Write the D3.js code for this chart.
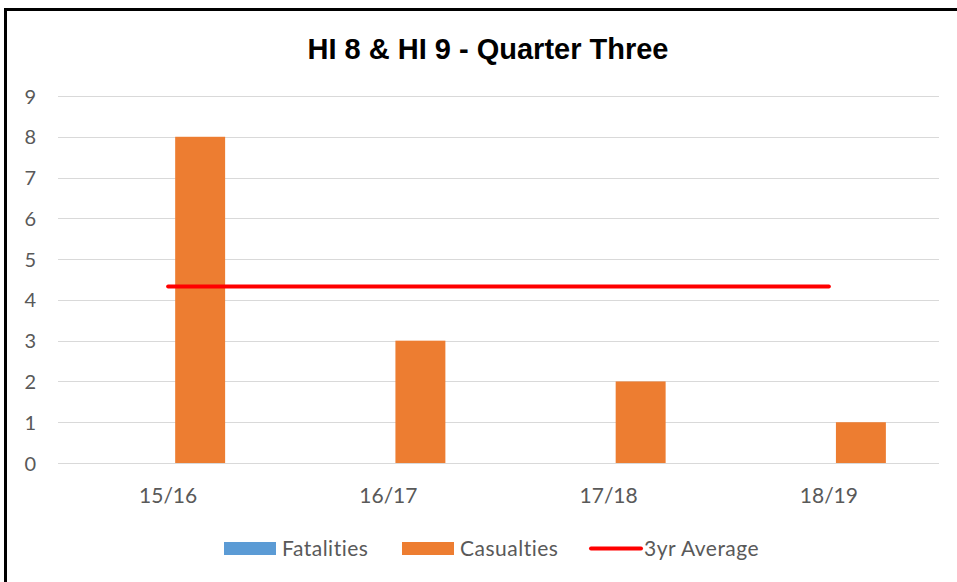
<!DOCTYPE html>
<html>
<head>
<meta charset="utf-8">
<script src="https://cdn.jsdelivr.net/npm/d3@7/dist/d3.min.js"></script>
<style>
  html, body { margin: 0; padding: 0; background: #fff; }
  svg { display: block; }
</style>
</head>
<body>
<svg id="chart" width="957" height="582"></svg>
<script>
// ---- data ----
const categories = ["15/16", "16/17", "17/18", "18/19"];
const fatalities = [0, 0, 0, 0];
const casualties = [8, 3, 2, 1];
const average3yr = [4.33, 4.33, 4.33, 4.33];
const yTicks = [0, 1, 2, 3, 4, 5, 6, 7, 8, 9];
const seriesNames = ["Fatalities", "Casualties", "3yr Average"];
const titleText = "HI 8 & HI 9 - Quarter Three";

// ---- layout ----
const svg = d3.select("#chart");
const W = 957, H = 582;
const plot = { left: 58, right: 939, top: 96, bottom: 463 };
const colors = { fat: "#5B9BD5", cas: "#ED7D31", avg: "#FF0000", grid: "#D9D9D9", text: "#595959" };
const font = "Lato, 'Open Sans', sans-serif";

svg.append("rect").attr("width", W).attr("height", H).attr("fill", "#fff");
// frame (left and top visible)
svg.append("line").attr("x1", 5.5).attr("x2", 5.5).attr("y1", 9).attr("y2", H).attr("stroke", "#000").attr("stroke-width", 3);
svg.append("line").attr("x1", 4).attr("x2", W).attr("y1", 9.5).attr("y2", 9.5).attr("stroke", "#000").attr("stroke-width", 3);

const x = d3.scaleBand().domain(categories).range([plot.left, plot.right]).padding(0);
const inner = d3.scaleBand().domain(["fat", "cas"]).range([-57, 57]).paddingInner(0.22);
const y = d3.scaleLinear().domain([0, 9]).range([plot.bottom, plot.top]);

// gridlines
svg.append("g").selectAll("line").data(yTicks).join("line")
  .attr("x1", plot.left).attr("x2", plot.right)
  .attr("y1", d => Math.round(y(d)) + 0.5).attr("y2", d => Math.round(y(d)) + 0.5)
  .attr("stroke", colors.grid).attr("stroke-width", 1);

// y axis labels
const yAxis = d3.axisLeft(y).tickValues(yTicks).tickSize(0).tickPadding(0);
const gy = svg.append("g").attr("transform", `translate(36,0)`).call(yAxis);
gy.select(".domain").remove();
gy.selectAll("text").attr("fill", colors.text).attr("font-family", font).attr("font-size", 20).attr("dy", "0.35em");

// x axis labels
const xAxis = d3.axisBottom(x).tickSize(0).tickPadding(0);
const gx = svg.append("g").attr("transform", `translate(0,${plot.bottom})`).call(xAxis);
gx.select(".domain").remove();
gx.selectAll("text").attr("fill", colors.text).attr("font-family", font).attr("font-size", 21).attr("dy", null).attr("y", 40);

// bars
const cx = c => x(c) + x.bandwidth() / 2;
svg.append("g").selectAll("rect").data(categories.map((c, i) => ({ c, v: fatalities[i] }))).join("rect")
  .attr("x", d => cx(d.c) + inner("fat")).attr("width", inner.bandwidth())
  .attr("y", d => y(d.v)).attr("height", d => y(0) - y(d.v)).attr("fill", colors.fat);
svg.append("g").selectAll("rect").data(categories.map((c, i) => ({ c, v: casualties[i] }))).join("rect")
  .attr("x", d => cx(d.c) + inner("cas")).attr("width", inner.bandwidth())
  .attr("y", d => y(d.v)).attr("height", d => y(0) - y(d.v)).attr("fill", colors.cas);

// 3yr average line
const line = d3.line().x((d, i) => cx(categories[i])).y(d => y(d));
svg.append("path").datum(average3yr).attr("d", line)
  .attr("fill", "none").attr("stroke", colors.avg).attr("stroke-width", 4).attr("stroke-linecap", "round");

// title
svg.append("text").attr("x", 488).attr("y", 59).attr("text-anchor", "middle")
  .attr("font-family", "'Liberation Sans', Arial, sans-serif").attr("font-weight", "bold").attr("font-size", 29)
  .attr("fill", "#000").text(titleText);

// legend
const lg = svg.append("g");
const legendItems = [
  { name: seriesNames[0], type: "rect", color: colors.fat, x: 224 },
  { name: seriesNames[1], type: "rect", color: colors.cas, x: 402 },
  { name: seriesNames[2], type: "line", color: colors.avg, x: 589 }
];
legendItems.forEach(it => {
  if (it.type === "rect") {
    lg.append("rect").attr("x", it.x).attr("y", 542).attr("width", 52).attr("height", 13).attr("fill", it.color);
  } else {
    lg.append("line").attr("x1", it.x + 2).attr("x2", it.x + 52).attr("y1", 548.5).attr("y2", 548.5)
      .attr("stroke", it.color).attr("stroke-width", 4).attr("stroke-linecap", "round");
  }
  lg.append("text").attr("x", it.x + (it.type === "rect" ? 58 : 55)).attr("y", 556)
    .attr("font-family", font).attr("font-size", 21).attr("letter-spacing", 0.5).attr("fill", colors.text).text(it.name);
});
</script>
</body>
</html>
